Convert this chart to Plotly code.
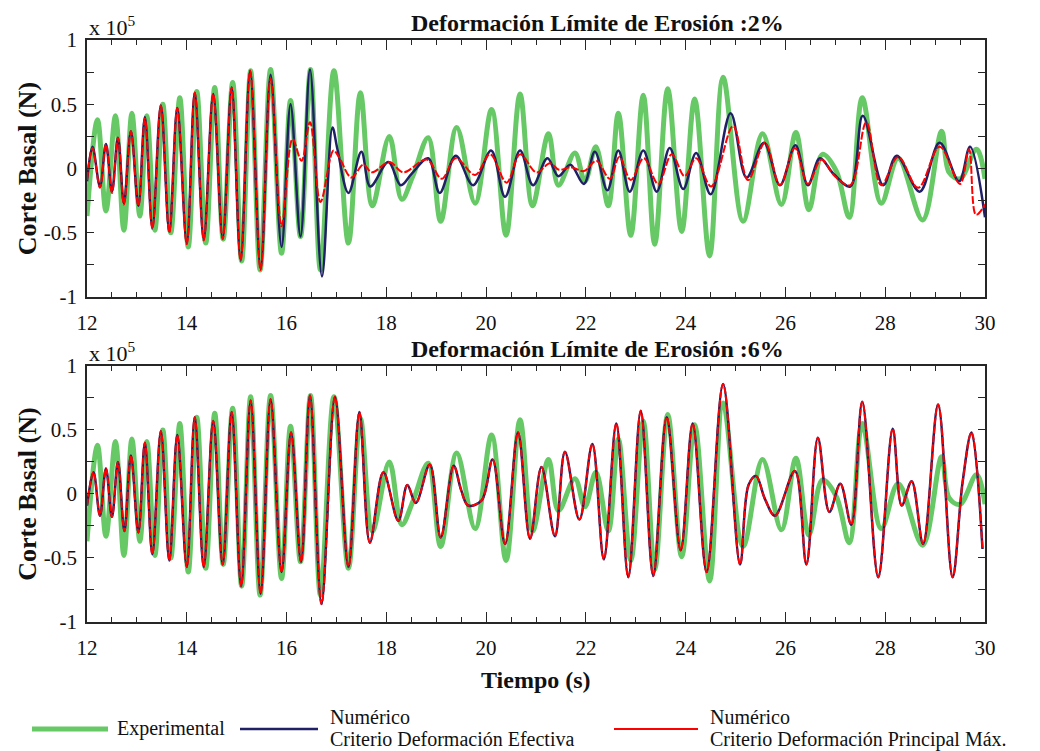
import plotly.graph_objects as go

# Base shear (units of 1e5 N) versus time (s): turning points of each record

# Experimental record (same in both panels)
t_exp = [12.00, 12.21, 12.38, 12.57, 12.74, 12.90, 13.06, 13.20, 13.36, 13.52,
         13.68, 13.86, 14.03, 14.20, 14.38, 14.56, 14.73, 14.92, 15.10, 15.28,
         15.47, 15.68, 15.90, 16.08, 16.28, 16.48, 16.68, 16.95, 17.24, 17.48,
         17.72, 18.06, 18.31, 18.53, 18.84, 19.09, 19.41, 19.78, 20.11, 20.40,
         20.68, 20.93, 21.25, 21.45, 21.78, 21.98, 22.20, 22.45, 22.65, 22.90,
         23.15, 23.38, 23.64, 23.92, 24.18, 24.48, 24.75, 25.15, 25.54, 25.92,
         26.21, 26.47, 26.74, 27.02, 27.28, 27.54, 27.92, 28.26, 28.75, 29.13,
         29.28, 29.50, 29.83, 30.00]
v_exp = [-0.37, 0.38, -0.33, 0.41, -0.48, 0.43, -0.37, 0.41, -0.48, 0.50,
         -0.50, 0.55, -0.61, 0.60, -0.58, 0.63, -0.55, 0.67, -0.72, 0.76,
         -0.79, 0.77, -0.66, 0.53, -0.53, 0.77, -0.79, 0.76, -0.58, 0.59,
         -0.29, 0.25, -0.24, -0.06, 0.24, -0.41, 0.32, -0.27, 0.46, -0.52,
         0.58, -0.29, 0.27, -0.13, 0.12, -0.10, 0.17, -0.29, 0.43, -0.52,
         0.57, -0.59, 0.62, -0.49, 0.54, -0.68, 0.71, -0.41, 0.27, -0.28,
         0.28, -0.32, 0.11, -0.02, -0.38, 0.55, -0.27, 0.08, -0.40, 0.29,
         -0.03, -0.08, 0.15, -0.08]

# Numerical, effective strain criterion, erosion limit 2%
t_ef2 = [12.00, 12.11, 12.26, 12.38, 12.50, 12.62, 12.74, 12.88, 13.03, 13.16,
         13.31, 13.48, 13.65, 13.81, 14.00, 14.16, 14.34, 14.53, 14.72, 14.90,
         15.08, 15.27, 15.48, 15.68, 15.90, 16.08, 16.28, 16.47, 16.71, 16.92,
         17.02, 17.24, 17.50, 17.68, 18.04, 18.29, 18.51, 18.84, 19.07, 19.39,
         19.74, 20.10, 20.38, 20.68, 20.94, 21.23, 21.45, 21.69, 21.96, 22.18,
         22.43, 22.65, 22.88, 23.15, 23.42, 23.68, 23.95, 24.21, 24.50, 24.90,
         25.22, 25.57, 25.89, 26.20, 26.45, 26.69, 26.96, 27.30, 27.55, 27.96,
         28.23, 28.69, 29.09, 29.48, 29.70, 30.00]
v_ef2 = [-0.10, 0.17, -0.14, 0.19, -0.18, 0.24, -0.27, 0.29, -0.29, 0.40,
         -0.46, 0.49, -0.49, 0.47, -0.58, 0.59, -0.55, 0.58, -0.54, 0.63,
         -0.71, 0.76, -0.78, 0.73, -0.61, 0.50, -0.53, 0.77, -0.84, 0.32,
         0.15, -0.19, 0.13, -0.14, 0.05, -0.13, -0.04, 0.08, -0.19, 0.10,
         -0.13, 0.14, -0.22, 0.14, -0.13, 0.08, -0.06, 0.03, -0.12, 0.13,
         -0.17, 0.14, -0.18, 0.14, -0.18, 0.16, -0.16, 0.12, -0.20, 0.43,
         -0.07, 0.20, -0.13, 0.18, -0.13, 0.08, -0.04, -0.14, 0.41, -0.13,
         0.10, -0.18, 0.20, -0.10, 0.17, -0.38]

# Numerical, maximum principal strain criterion, erosion limit 2%
t_pm2 = [12.00, 12.11, 12.26, 12.38, 12.50, 12.62, 12.74, 12.88, 13.03, 13.16,
         13.31, 13.48, 13.65, 13.81, 14.00, 14.16, 14.34, 14.53, 14.72, 14.90,
         15.08, 15.27, 15.48, 15.68, 15.90, 16.12, 16.30, 16.47, 16.68, 16.94,
         17.05, 17.30, 17.54, 17.71, 18.06, 18.34, 18.81, 19.11, 19.39, 19.78,
         20.08, 20.41, 20.68, 21.01, 21.28, 21.46, 21.70, 21.96, 22.21, 22.48,
         22.67, 22.90, 23.16, 23.45, 23.72, 23.98, 24.21, 24.51, 24.95, 25.25,
         25.59, 25.89, 26.19, 26.45, 26.72, 26.99, 27.30, 27.62, 27.92, 28.26,
         28.66, 29.09, 29.50, 29.68, 29.82, 30.00]
v_pm2 = [-0.09, 0.16, -0.15, 0.19, -0.19, 0.24, -0.28, 0.29, -0.29, 0.39,
         -0.47, 0.49, -0.50, 0.47, -0.59, 0.59, -0.56, 0.58, -0.55, 0.63,
         -0.72, 0.76, -0.79, 0.70, -0.45, 0.23, 0.06, 0.36, -0.26, 0.14,
         0.09, -0.07, 0.03, -0.03, 0.05, -0.03, 0.07, -0.08, 0.08, -0.05,
         0.11, -0.11, 0.11, -0.03, 0.04, -0.01, 0.01, -0.02, 0.06, -0.08,
         0.09, -0.09, 0.08, -0.12, 0.11, -0.06, 0.08, -0.14, 0.33, -0.09,
         0.20, -0.13, 0.16, -0.12, 0.07, -0.06, -0.13, 0.36, -0.13, 0.09,
         -0.15, 0.17, -0.12, 0.15, -0.36, -0.28]

# Numerical, erosion limit 6% (both criteria give the same response)
t_num6 = [12.00, 12.13, 12.26, 12.38, 12.50, 12.62, 12.75, 12.88, 13.03, 13.16,
          13.31, 13.48, 13.65, 13.81, 14.00, 14.16, 14.34, 14.53, 14.72, 14.90,
          15.09, 15.28, 15.48, 15.68, 15.90, 16.09, 16.29, 16.47, 16.70, 16.97,
          17.24, 17.46, 17.67, 17.94, 18.24, 18.42, 18.59, 18.87, 19.09, 19.35,
          19.50, 19.64, 19.91, 20.13, 20.38, 20.64, 20.88, 21.11, 21.38, 21.58,
          21.87, 22.13, 22.36, 22.61, 22.85, 23.10, 23.35, 23.62, 23.90, 24.14,
          24.42, 24.75, 25.09, 25.26, 25.41, 25.59, 25.79, 26.19, 26.42, 26.65,
          26.88, 27.10, 27.32, 27.54, 27.86, 28.15, 28.33, 28.53, 28.76, 29.06,
          29.35, 29.55, 29.73, 29.95]
v_num6 = [-0.09, 0.17, -0.17, 0.20, -0.18, 0.25, -0.29, 0.30, -0.30, 0.40,
          -0.47, 0.49, -0.52, 0.46, -0.57, 0.60, -0.57, 0.57, -0.55, 0.64,
          -0.72, 0.73, -0.78, 0.74, -0.61, 0.48, -0.53, 0.77, -0.86, 0.76,
          -0.57, 0.64, -0.38, 0.17, -0.21, 0.07, -0.07, 0.23, -0.34, 0.22,
          0.03, -0.09, -0.05, 0.27, -0.39, 0.48, -0.35, 0.21, -0.33, 0.33,
          -0.20, 0.39, -0.51, 0.55, -0.65, 0.65, -0.64, 0.60, -0.44, 0.55,
          -0.61, 0.86, -0.55, 0.07, 0.14, -0.04, -0.17, 0.18, -0.55, 0.44,
          -0.14, 0.08, -0.24, 0.72, -0.65, 0.51, -0.09, 0.10, -0.39, 0.70,
          -0.65, 0.09, 0.48, -0.43]

x_ticks = list(range(12, 31, 2))
y_tickvals = [-1, -0.5, 0, 0.5, 1]
y_ticktext = ["-1", "-0.5", "0", "0.5", "1"]
panel_titles = ["Deformación Límite de Erosión :2%", "Deformación Límite de Erosión :6%"]
legend_names = [["Experimental"],
                ["Numérico", "Criterio Deformación Efectiva"],
                ["Numérico", "Criterio Deformación Principal Máx."]]

GREEN = "#66C966"
NAVY = "#202066"
RED = "#FF0000"
FONT = "'Liberation Serif', 'Times New Roman', Times, serif"
AXIS_COL = "#262626"

fig = go.Figure()


def add_series(t, v, xa, ya, color, width, dash="solid"):
    fig.add_trace(go.Scatter(
        x=t, y=v, xaxis=xa, yaxis=ya, mode="lines",
        line=dict(color=color, width=width, dash=dash, shape="spline", smoothing=1.0),
        showlegend=False, hoverinfo="skip"))


# Top panel (erosion limit 2%)
add_series(t_exp, v_exp, "x", "y", GREEN, 5)
add_series(t_ef2, v_ef2, "x", "y", NAVY, 2.5)
add_series(t_pm2, v_pm2, "x", "y", RED, 2, "8px,2px")
# Bottom panel (erosion limit 6%)
add_series(t_exp, v_exp, "x2", "y2", GREEN, 5)
add_series(t_num6, v_num6, "x2", "y2", NAVY, 2.5)
add_series(t_num6, v_num6, "x2", "y2", RED, 2, "7px,2px")

xaxis_common = dict(
    range=[12, 30], tickmode="array", tickvals=x_ticks,
    ticks="inside", ticklen=10, tickwidth=1.4, tickcolor=AXIS_COL,
    minor=dict(dtick=0.5, tick0=12, ticks="inside", ticklen=5, tickwidth=1.2, tickcolor=AXIS_COL),
    showline=True, linecolor=AXIS_COL, linewidth=1.6, mirror="allticks",
    showgrid=False, zeroline=False,
    tickfont=dict(family=FONT, size=21, color="#111"), ticklabelstandoff=6,
)
yaxis_common = dict(
    range=[-1, 1], tickmode="array", tickvals=y_tickvals, ticktext=y_ticktext,
    ticks="inside", ticklen=7, tickwidth=1.4, tickcolor=AXIS_COL,
    minor=dict(dtick=0.25, tick0=0, ticks="inside", ticklen=7, tickwidth=1.2, tickcolor=AXIS_COL),
    showline=True, linecolor=AXIS_COL, linewidth=1.6, mirror="allticks",
    showgrid=False, zeroline=False,
    tickfont=dict(family=FONT, size=21, color="#111"), ticklabelstandoff=4,
)

top_dom = [0.5584, 1.0]
bot_dom = [0.0, 0.4399]

fig.update_layout(
    width=1040, height=751,
    margin=dict(l=87, r=55, t=40, b=129),
    paper_bgcolor="white", plot_bgcolor="white",
    font=dict(family=FONT, color="#111"),
    xaxis=dict(xaxis_common, anchor="y", domain=[0, 1]),
    yaxis=dict(yaxis_common, anchor="x", domain=top_dom),
    xaxis2=dict(xaxis_common, anchor="y2", domain=[0, 1]),
    yaxis2=dict(yaxis_common, anchor="x2", domain=bot_dom),
    showlegend=False,
)

annotations = []
for dom, title in zip([top_dom, bot_dom], panel_titles):
    top = dom[1]
    # panel title
    annotations.append(dict(
        text="<b>%s</b>" % title, xref="paper", yref="paper",
        x=0.568, y=top + 0.004, xanchor="center", yanchor="bottom",
        showarrow=False, font=dict(family=FONT, size=24, color="#111")))
    # exponent multiplier
    annotations.append(dict(
        text="x 10<sup>5</sup>", xref="paper", yref="paper",
        x=0.0, y=top - 0.004, xanchor="left", yanchor="bottom",
        showarrow=False, font=dict(family=FONT, size=22, color="#111")))
    # y axis title
    annotations.append(dict(
        text="<b>Corte Basal (N)</b>", xref="paper", yref="paper",
        x=-0.066, y=(dom[0] + dom[1]) / 2, xanchor="center", yanchor="middle",
        textangle=-90, showarrow=False, font=dict(family=FONT, size=26, color="#111")))

annotations.append(dict(
    text="<b>Tiempo (s)</b>", xref="paper", yref="paper",
    x=0.5, y=-0.100, xanchor="center", yanchor="middle",
    showarrow=False, font=dict(family=FONT, size=24, color="#111")))


# Legend row below the lower panel
def px_x(p):
    return (p - 87) / 898.0


def px_y(p):
    return (622 - p) / 582.0


legend_rows = [
    (GREEN, 5, 32, 108, 115),
    (NAVY, 2.5, 240, 318, 328),
    (RED, 2, 614, 698, 708),
]
shapes = []
for (color, width, x0, x1, xt), lines in zip(legend_rows, legend_names):
    shapes.append(dict(type="line", xref="paper", yref="paper",
                       x0=px_x(x0), x1=px_x(x1), y0=px_y(729), y1=px_y(729),
                       line=dict(color=color, width=width)))
    if len(lines) == 1:
        rows = [(lines[0], 728)]
    else:
        rows = [(lines[0], 717), (lines[1], 739)]
    for txt, yc in rows:
        annotations.append(dict(
            text=txt, xref="paper", yref="paper", x=px_x(xt), y=px_y(yc),
            xanchor="left", yanchor="middle", align="left", showarrow=False,
            font=dict(family=FONT, size=20, color="#111")))

fig.update_layout(annotations=annotations, shapes=shapes)

fig.write_html("out.html")
